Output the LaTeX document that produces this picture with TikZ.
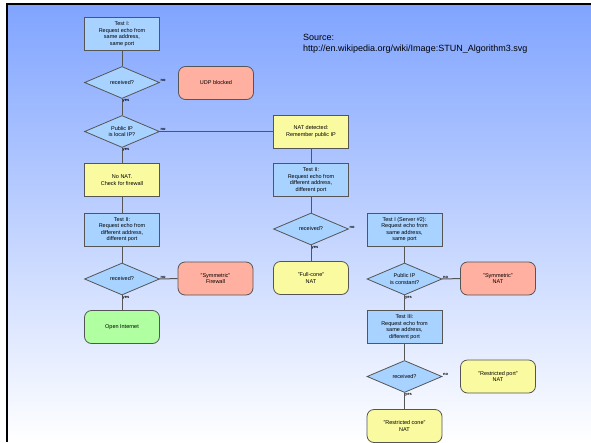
\documentclass[tikz,border=0pt]{standalone}
\usepackage{fontspec}
\setmainfont{Liberation Sans}
\usetikzlibrary{shapes.geometric}
\definecolor{testblue}{RGB}{168,210,255}
\definecolor{natyellow}{RGB}{250,250,160}
\definecolor{badred}{RGB}{255,176,160}
\definecolor{okgreen}{RGB}{176,255,160}
\definecolor{edgegray}{RGB}{85,85,85}
\definecolor{bgtop}{RGB}{128,164,255}
\definecolor{bgmid}{RGB}{205,218,255}

\begin{document}
\begin{tikzpicture}[x=1pt,y=-1pt,
		box/.style={draw=edgegray,line width=0.8pt,minimum width=75pt,minimum height=33pt,inner sep=1pt,align=center,font=\fontsize{5.5}{6.5}\selectfont},
		test/.style={box,fill=testblue},
		note/.style={box,fill=natyellow},
		bad/.style={box,fill=badred,rounded corners=7pt},
		good/.style={box,fill=okgreen,rounded corners=7pt},
		result/.style={box,fill=natyellow,rounded corners=7pt},
		ask/.style={diamond,aspect=2.3,draw=edgegray,line width=0.8pt,fill=testblue,minimum width=75pt,minimum height=32pt,inner sep=0pt,align=center,font=\fontsize{5.5}{6.5}\selectfont},
		link/.style={draw=edgegray,line width=1pt},
		tag/.style={inner sep=0.5pt,font=\fontsize{4}{4}\bfseries\selectfont}]
		\useasboundingbox (0,0) rectangle (591,442);
		\fill [white] (0,0) rectangle (591,442);
		\shade [top color=bgtop,middle color=bgmid,bottom color=white] (6,4) rectangle (591,442);
		\fill [black] (5.5,2.5) rectangle (591,5);
		\fill [black] (5.5,2.5) rectangle (7.5,442);

		\node [anchor=north west,inner sep=0pt,align=left,font=\fontsize{9}{10.8}\selectfont] (src) at (303,34) {Source:\\http://en.wikipedia.org/wiki/Image:STUN\_Algorithm3.svg};

		\node [test] (t1) at (122,34) {Test I:\\Request echo from\\same address,\\same port};
		\node [ask] (r1) at (122,82.5) {received?};
		\node [bad] (udp) at (216,83) {UDP blocked};
		\node [ask] (lip) at (122,131.5) {Public IP\\is local IP?};
		\node [note] (nonat) at (122,180) {No NAT.\\Check for firewall};
		\node [test] (t2) at (122,229.5) {Test II:\\Request echo from\\different address,\\different port};
		\node [ask] (r2) at (122,279) {received?};
		\node [bad] (symfw) at (215.5,278.5) {"Symmetric"\\Firewall};
		\node [good] (open) at (122,327) {Open Internet};

		\node [note] (natdet) at (311,131.5) {NAT detected:\\Remember public IP};
		\node [test] (t2b) at (311,180) {Test II:\\Request echo from\\different address,\\different port};
		\node [ask] (r3) at (311,229) {received?};
		\node [result] (full) at (311,278) {"Full-cone"\\NAT};

		\node [test] (t1b) at (404.5,229.5) {Test I (Server \#2):\\Request echo from\\same address,\\same port};
		\node [ask] (cip) at (404.5,279) {Public IP\\is constant?};
		\node [bad] (symnat) at (498,278.5) {"Symmetric"\\NAT};
		\node [test] (t3) at (404.5,327) {Test III:\\Request echo from\\same address,\\different port};
		\node [ask] (r4) at (404.5,376.5) {received?};
		\node [result] (rport) at (498,376.5) {"Restricted port"\\NAT};
		\node [result] (rcone) at (404.5,426) {"Restricted cone"\\NAT};

		\draw [link] (t1) -- (r1);
		\draw [link] (r1) -- (lip);
		\draw [link] (lip) -- (nonat);
		\draw [link] (lip) -- (natdet);
		\draw [link] (nonat) -- (t2);
		\draw [link] (t2) -- (r2);
		\draw [link] (r2) -- (symfw);
		\draw [link] (r2) -- (open);
		\draw [link] (natdet) -- (t2b);
		\draw [link] (t2b) -- (r3);
		\draw [link] (r3) -- (full);
		\draw [link] (t1b) -- (cip);
		\draw [link] (cip) -- (symnat);
		\draw [link] (cip) -- (t3);
		\draw [link] (t3) -- (r4);
		\draw [link] (r4) -- (rcone);

		\node [tag,anchor=south west] (r1no) at (r1.east) {no};
		\node [tag,anchor=north west] (r1yes) at (r1.south) {yes};
		\node [tag,anchor=south west] (lipno) at (lip.east) {no};
		\node [tag,anchor=north west] (lipyes) at (lip.south) {yes};
		\node [tag,anchor=south west] (r2no) at (r2.east) {no};
		\node [tag,anchor=north west] (r2yes) at (r2.south) {yes};
		\node [tag,anchor=south west] (r3no) at (r3.east) {no};
		\node [tag,anchor=north west] (r3yes) at (r3.south) {yes};
		\node [tag,anchor=south west] (cipno) at (cip.east) {no};
		\node [tag,anchor=north west] (cipyes) at (cip.south) {yes};
		\node [tag,anchor=south west] (r4no) at (r4.east) {no};
		\node [tag,anchor=north west] (r4yes) at (r4.south) {yes};
	\end{tikzpicture}
\end{document}
